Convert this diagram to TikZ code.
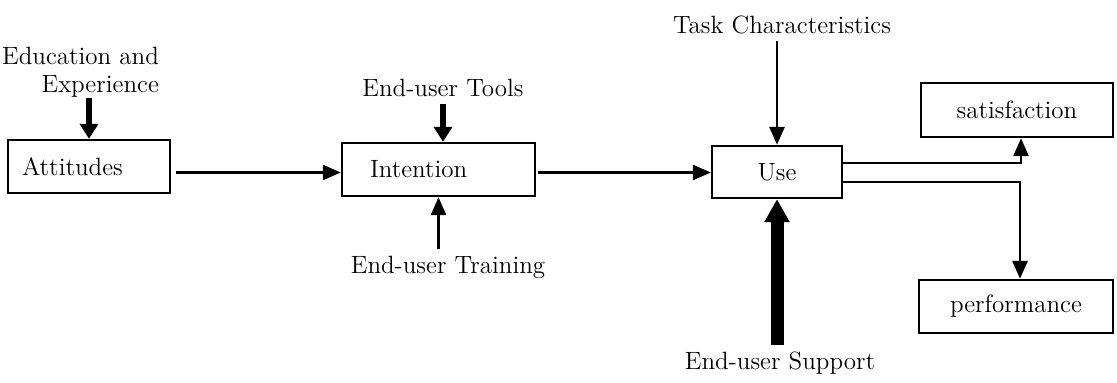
\documentclass[tikz,border=0pt]{standalone}
\usepackage{tikz}
\usetikzlibrary{arrows.meta, positioning}

\begin{document}
\begin{tikzpicture}[x=0.5pt, y=-0.5pt,
    every node/.style={font=\fontsize{12.5}{14}\selectfont},
    box/.style={draw, line width=1.2pt, rectangle, minimum height=26.5pt},
    thin arr/.style={line width=1.4pt, -{Triangle[width=7.5pt,length=9pt]}},
    fat arr/.style={line width=3pt, -{Triangle[width=9pt,length=7.5pt]}},
    huge arr/.style={line width=6.5pt, -{Triangle[width=12pt,length=11.5pt]}}]
    \useasboundingbox (0,0) rectangle (1117,382);
    % boxes
    \node[box, text width=67pt, inner xsep=7pt, align=left] (att) at (89,166.5) {Attitudes};
    \node[box, text width=68.5pt, inner xsep=14pt, align=left] (int) at (438.5,169.5) {Intention};
    \node[box, minimum width=65pt, minimum height=26pt] (use) at (777,172) {Use};
    \node[box, minimum width=96pt, minimum height=27pt] (sat) at (1017,110) {satisfaction};
    \node[box, minimum width=97pt] (perf) at (1016,306.5) {performance};
    % outside factors
    \node[align=right, anchor=south east, inner ysep=0pt] (edu) at (166,98) {Education and\\Experience};
    \node (tools) at (443,88) {End-user Tools};
    \node (train) at (448,267) {End-user Training};
    \node (task) at (782,25) {Task Characteristics};
    \node (supp) at (780,363) {End-user Support};
    % arrows
    \draw[fat arr] (edu.south -| att.north) -- (att.north);
    \draw[fat arr] (tools.south) -- (tools.south |- int.north);
    \draw[thin arr] (train.north -| int.south) -- (int.south);
    \draw[thin arr] (task.south -| use.north) -- (use.north);
    \draw[huge arr] (supp.north -| use.south) -- (use.south);
    \draw[thin arr, shorten <=2.5pt] ([yshift=-3pt]att.east) -- ([yshift=-3pt]att.east -| int.west);
    \draw[thin arr, shorten <=1pt] ([yshift=-1.5pt]int.east) -- ([yshift=-1.5pt]int.east -| use.west);
    \draw[thin arr] ([yshift=4.5pt]use.east) -| ([xshift=2pt]sat.south);
    \draw[thin arr] ([yshift=-5pt]use.east) -| ([xshift=2pt]perf.north);
\end{tikzpicture}
\end{document}
